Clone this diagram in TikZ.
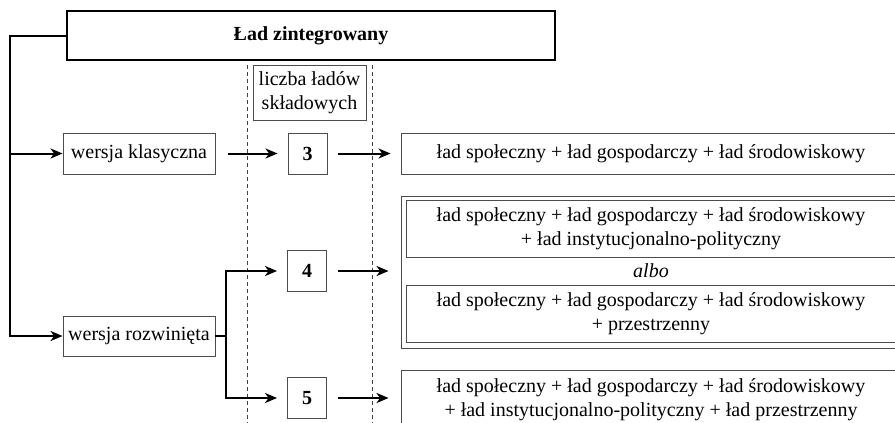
\documentclass[tikz,border=0pt]{standalone}
\usepackage{fontspec}
\setmainfont{Liberation Serif}
\usetikzlibrary{arrows.meta}

\begin{document}
\begin{tikzpicture}[x=1pt, y=-1pt,
  txt/.style={font=\fontsize{20}{24}\selectfont, text=black, align=center, inner sep=0pt},
  box/.style={txt, draw=black!70, line width=0.9pt},
  titlebox/.style={txt, draw=black, line width=2pt},
  numbox/.style={box, minimum width=39pt, minimum height=41pt, font=\fontsize{20}{24}\selectfont\bfseries},
  widebox/.style={box, minimum width=500pt},
  arr/.style={line width=2pt, -{Stealth[length=12pt, width=10pt, inset=3.5pt]}},
  link/.style={line width=2pt},
  guide/.style={draw=black!75, line width=0.7pt, dash pattern=on 4pt off 3pt}
]
\useasboundingbox (0,0) rectangle (895,423);
\clip (0,0) rectangle (895,423);

% vertical guides around the column of counts
\draw[guide] (247,65) -- (247,430);
\draw[guide] (372,65) -- (372,430);

% header and column caption
\node[titlebox, minimum width=488pt, minimum height=49pt] (title) at (311,35.5) {\bfseries Ład zintegrowany};
\node[box, minimum width=113pt, minimum height=55pt] (count) at (309.5,92.5) {liczba ładów\\składowych};

% the two versions
\node[box, minimum width=152pt, minimum height=41pt] (classic) at (139,153.5) {wersja klasyczna};
\node[box, minimum width=152pt, minimum height=40pt] (extended) at (139,336) {wersja rozwinięta};

% number of component orders
\node[numbox] (n3) at (307.5,153.5) {3};
\node[numbox] (n4) at (307,271) {4};
\node[numbox] (n5) at (307,398) {5};

% compositions
\node[widebox, minimum height=41pt] (r3) at (651,153.5)
  {ład społeczny + ład gospodarczy + ład środowiskowy};
\node[widebox, minimum height=152pt] (r4) at (651,272) {};
\node[box, minimum width=490pt, minimum height=57pt] (r4a) at (651,228.5)
  {ład społeczny + ład gospodarczy + ład środowiskowy\\+ ład instytucjonalno-polityczny};
\node[txt] (albo) at (651,271) {\itshape albo};
\node[box, minimum width=490pt, minimum height=57pt] (r4b) at (651,313.5)
  {ład społeczny + ład gospodarczy + ład środowiskowy\\+ przestrzenny};
\node[widebox, minimum height=59pt] (r5) at (651,399.5)
  {ład społeczny + ład gospodarczy + ład środowiskowy\\+ ład instytucjonalno-polityczny + ład przestrzenny};

% trunk from the header to both versions
\coordinate (trunk) at (10,35.5);
\draw[arr] (title.west) -- (trunk) |- (extended.west);
\draw[arr] (trunk |- classic.west) -- (classic.west);

% classic version
\draw[arr, shorten <=13pt, shorten >=10pt] (classic.east) -- (n3.west);
\draw[arr, shorten <=11pt, shorten >=10pt] (n3.east) -- (r3.west);

% extended version forks into 4 and 5
\coordinate (fork) at (226,336);
\draw[link] (extended.east) -- (fork);
\draw[arr, shorten >=10pt] (fork) |- (n4.west);
\draw[arr, shorten >=10pt] (fork) |- (n5.west);
\draw[arr, shorten <=11pt, shorten >=12pt] (n4.east) -- (n4.east -| r4.west);
\draw[arr, shorten <=11pt, shorten >=12pt] (n5.east) -- (n5.east -| r5.west);
\end{tikzpicture}
\end{document}
